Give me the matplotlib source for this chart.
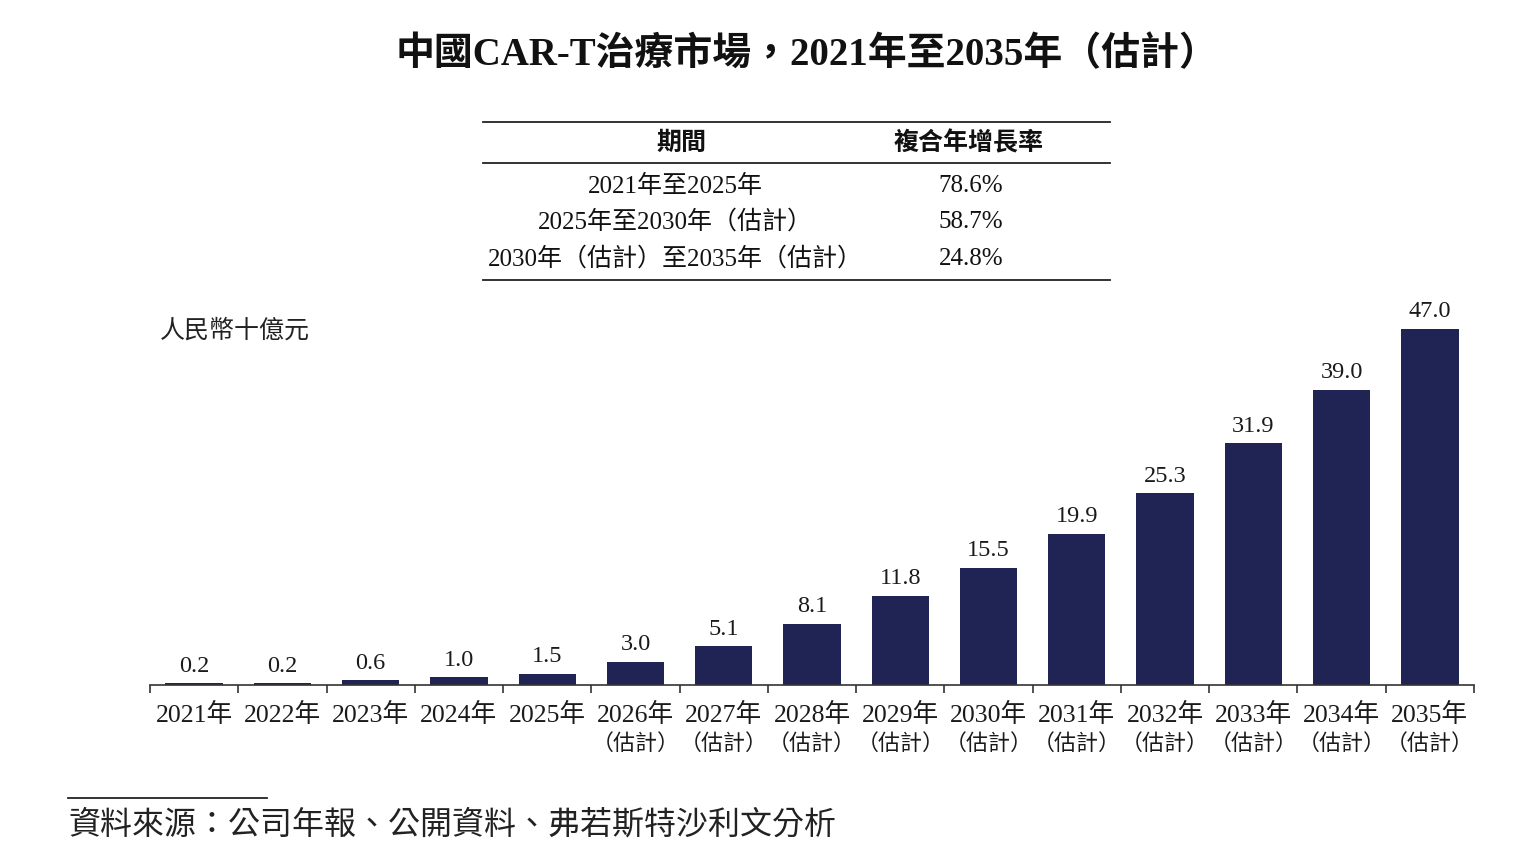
import matplotlib
matplotlib.use("Agg")
import matplotlib.pyplot as plt
from matplotlib.lines import Line2D

plt.rcParams['font.family'] = ['Liberation Serif', 'Noto Sans CJK TC', 'DejaVu Sans']

years = ["2021年", "2022年", "2023年", "2024年", "2025年", "2026年", "2027年", "2028年",
         "2029年", "2030年", "2031年", "2032年", "2033年", "2034年", "2035年"]
estimated = [False] * 5 + [True] * 10
est_label = "（估計）"
values = [0.2, 0.2, 0.6, 1.0, 1.5, 3.0, 5.1, 8.1, 11.8, 15.5, 19.9, 25.3, 31.9, 39.0, 47.0]

periods = ["2021年至2025年", "2025年至2030年（估計）", "2030年（估計）至2035年（估計）"]
cagr = ["78.6%", "58.7%", "24.8%"]

title = "中國CAR-T治療市場，2021年至2035年（估計）"
unit = "人民幣十億元"
source = "資料來源：公司年報、公開資料、弗若斯特沙利文分析"

W, H = 1514, 868
fig = plt.figure(figsize=(W / 100, H / 100), dpi=100)
ax = fig.add_axes([150 / W, 1 - 685 / H, 1324 / W, 378.7 / H])

bar_color = "#1f2454"
x = range(len(values))
ax.bar(x, values, width=0.65, color=bar_color)
for i, v in enumerate(values):
    ax.text(i, v + 0.9, f"{v:.1f}", ha="center", va="bottom", fontsize=17.5, color="#1a1a1a")

ax.set_xlim(-0.5, len(values) - 0.5)
ax.set_ylim(0, 50)
for s in ["top", "right", "left"]:
    ax.spines[s].set_visible(False)
ax.spines["bottom"].set_color("#333333")
ax.spines["bottom"].set_linewidth(1.2)
ax.set_yticks([])
ax.set_xticks([i - 0.5 for i in range(len(values) + 1)])
ax.set_xticklabels([])
ax.tick_params(axis="x", direction="out", length=6, width=1.2, color="#333333")
for i, lab in enumerate(years):
    ax.text(i, -2.4, lab, ha="center", va="top", fontsize=18.5, color="#1a1a1a", clip_on=False)
    if estimated[i]:
        ax.text(i, -6.3, est_label, ha="center", va="top", fontsize=15.8, color="#1a1a1a",
                family=["Noto Sans CJK TC"], clip_on=False)

# title
fig.text(807 / W, 1 - 55 / H, title, ha="center", va="center", fontsize=28,
         fontweight="bold", color="#111111")

# table
def fy(py):
    return 1 - py / H

for py in [122, 163, 280]:
    fig.add_artist(Line2D([483 / W, 1110 / W], [fy(py), fy(py)], color="#222222", lw=1.3))
fig.text(681 / W, fy(143), "期間", ha="center", va="center", fontsize=18,
         family=["Noto Sans CJK TC"], fontweight="bold", color="#111111")
fig.text(969 / W, fy(143), "複合年增長率", ha="center", va="center", fontsize=18,
         family=["Noto Sans CJK TC"], fontweight="bold", color="#111111")
row_y = [186, 222, 259]
for p, c, py in zip(periods, cagr, row_y):
    fig.text(675 / W, fy(py), p, ha="center", va="center", fontsize=18, color="#111111")
    fig.text(971 / W, fy(py), c, ha="center", va="center", fontsize=18, color="#111111")

# unit label
fig.text(160 / W, fy(331), unit, ha="left", va="center", fontsize=18, color="#222222")

# source
fig.add_artist(Line2D([68 / W, 267 / W], [fy(798), fy(798)], color="#222222", lw=1.3))
fig.text(68 / W, fy(825), source, ha="left", va="center", fontsize=23,
         family=["Noto Sans CJK TC"], fontweight="light", color="#222222")

fig.savefig("out.png", dpi=100)
